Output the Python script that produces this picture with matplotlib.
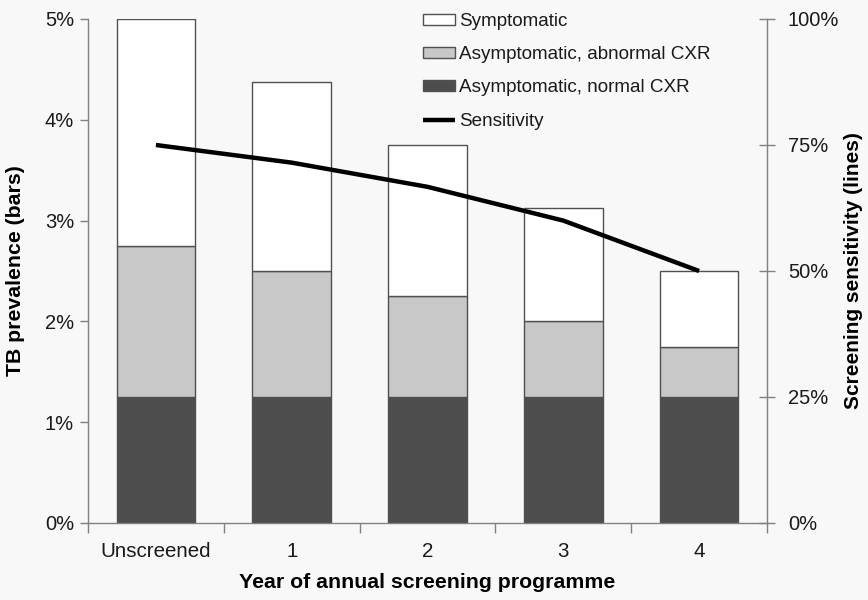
import matplotlib
matplotlib.use('Agg')
import matplotlib.pyplot as plt
import numpy as np
from matplotlib.ticker import FuncFormatter, FixedLocator

plt.rcParams['font.family'] = ['Liberation Sans', 'DejaVu Sans']

categories = ['Unscreened', '1', '2', '3', '4']
normal_cxr = [1.25, 1.25, 1.25, 1.25, 1.25]
abnormal_cxr = [1.5, 1.25, 1.0, 0.75, 0.5]
symptomatic = [2.25, 1.875, 1.5, 1.125, 0.75]
sensitivity = [75, 71.5, 66.7, 60, 50]

bg = '#f8f8f8'
edge = '#505050'
spine_c = '#808080'

fig = plt.figure(figsize=(8.68, 6.0), dpi=100, facecolor=bg)
ax = fig.add_axes([88/868, 1-523/600, (767-88)/868, (523-19)/600])
ax.set_facecolor(bg)

x = np.arange(len(categories))
w = 0.58
b1 = ax.bar(x, normal_cxr, w, color='#4d4d4d', edgecolor=edge, linewidth=1,
            label='Asymptomatic, normal CXR')
bottom2 = np.array(normal_cxr)
b2 = ax.bar(x, abnormal_cxr, w, bottom=bottom2, color='#c8c8c8', edgecolor=edge,
            linewidth=1, label='Asymptomatic, abnormal CXR')
bottom3 = bottom2 + np.array(abnormal_cxr)
b3 = ax.bar(x, symptomatic, w, bottom=bottom3, color='white', edgecolor=edge,
            linewidth=1, label='Symptomatic')

ax.set_xlim(-0.5, len(categories) - 0.5)
ax.set_ylim(0, 5)
ax.set_yticks([0, 1, 2, 3, 4, 5])
ax.yaxis.set_major_formatter(FuncFormatter(lambda v, p: '%d%%' % v))
ax.set_xticks(x)
ax.set_xticklabels(categories)
ax.xaxis.set_minor_locator(FixedLocator(np.arange(-0.5, len(categories), 1.0)))
ax.tick_params(axis='x', which='major', length=0, pad=14, labelsize=14.8, colors='#1a1a1a')
ax.tick_params(axis='x', which='minor', length=7, width=1, color=spine_c, direction='out')
ax.tick_params(axis='y', length=6, width=1, color=spine_c, direction='out',
               labelsize=14.5, labelcolor='#1a1a1a', pad=4)

for s in ['top', 'right']:
    ax.spines[s].set_visible(False)
for s in ['left', 'bottom']:
    ax.spines[s].set_color(spine_c)
    ax.spines[s].set_linewidth(1)

ax.set_xlabel('Year of annual screening programme', fontsize=15.3, fontweight='bold',
              labelpad=8)
ax.set_ylabel('TB prevalence (bars)', fontsize=15.3, fontweight='bold', labelpad=14)

ax2 = ax.twinx()
ax2.set_ylim(0, 100)
line, = ax2.plot(x, sensitivity, color='black', linewidth=3.2, label='Sensitivity',
                 solid_capstyle='butt')
ax2.set_yticks([0, 25, 50, 75, 100])
ax2.yaxis.set_major_formatter(FuncFormatter(lambda v, p: '%d%%' % v))
ax2.tick_params(axis='y', length=12, width=1, color=spine_c, direction='inout',
                labelsize=14.5, labelcolor='#1a1a1a', pad=9)
for s in ['top', 'left', 'bottom']:
    ax2.spines[s].set_visible(False)
ax2.spines['right'].set_color(spine_c)
ax2.spines['right'].set_linewidth(1)
ax2.set_ylabel('Screening sensitivity (lines)', fontsize=15, fontweight='bold')
ax2.yaxis.set_label_coords((844 - 88) / 679, 0.5)

leg = ax2.legend([b3, b2, b1, line],
                 ['Symptomatic', 'Asymptomatic, abnormal CXR',
                  'Asymptomatic, normal CXR', 'Sensitivity'],
                 loc='upper left', bbox_to_anchor=(423/868, 1-13/600),
                 bbox_transform=fig.transFigure, frameon=False,
                 fontsize=13.6, handlelength=1.7, handleheight=0.55,
                 handletextpad=0.2, labelspacing=0.86, borderpad=0,
                 borderaxespad=0)
for t in leg.get_texts():
    t.set_color('#1a1a1a')

fig.savefig('out.png', dpi=100, facecolor=bg)
